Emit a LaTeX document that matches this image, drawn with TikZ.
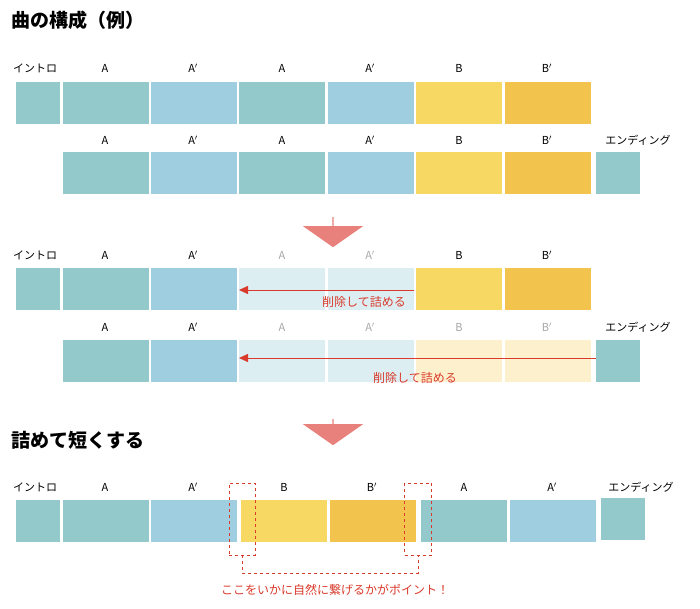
\documentclass[tikz,border=0pt]{standalone}
\usepackage{fontspec}
\setmainfont{Noto Sans CJK JP}
\usetikzlibrary{arrows.meta, positioning, calc, shapes.arrows}
\definecolor{tealblk}{HTML}{93C9CA}
\definecolor{blueblk}{HTML}{9FCEE0}
\definecolor{yelblk}{HTML}{F7D862}
\definecolor{orablk}{HTML}{F2C44E}
\definecolor{fadeblue}{HTML}{DDEEF2}
\definecolor{fadeyel}{HTML}{FDF0CC}
\definecolor{cutred}{HTML}{D93A2B}
\definecolor{bigarrow}{HTML}{E8817C}
\tikzset{
    blk/.style={rectangle, minimum height=42pt, inner sep=0pt, anchor=north west},
    wide/.style={blk, minimum width=86pt},
    narrow/.style={blk, minimum width=44pt},
    lbl/.style={font=\fontsize{11}{13}\selectfont, text=black},
    fadelbl/.style={lbl, text=gray!70},
    title/.style={font=\fontsize{19}{22}\selectfont\bfseries, anchor=west},
    cut/.style={-{Triangle[length=9pt,width=8pt]}, thick, color=cutred},
    note/.style={font=\fontsize{12}{14}\selectfont, text=cutred},
    down/.style={single arrow, shape border rotate=270, fill=bigarrow, minimum width=60pt,
        single arrow head extend=10pt, single arrow tip angle=110, minimum height=30pt, inner sep=0pt},
    joinmark/.style={draw=cutred, dashed, thick},
}
\begin{document}
\begin{tikzpicture}[x=1pt, y=-1pt]
    \useasboundingbox (0,0) rectangle (700,609);
    \node[title] (t1) at (8,20) {曲の構成（例）};

    % row 1
    \node[narrow, fill=tealblk] (r1i) at (16,82) {};
    \node[wide, fill=tealblk] (r1a) at (63,82) {};
    \node[wide, fill=blueblk] (r1b) at (151,82) {};
    \node[wide, fill=tealblk] (r1c) at (239,82) {};
    \node[wide, fill=blueblk] (r1d) at (328,82) {};
    \node[wide, fill=yelblk] (r1e) at (416,82) {};
    \node[wide, fill=orablk] (r1f) at (505,82) {};
    \node[lbl] at (35,68) {イントロ};
    \node[lbl] at (105,68) {A};
    \node[lbl] at (193,68) {A$'$};
    \node[lbl] at (282,68) {A};
    \node[lbl] at (370,68) {A$'$};
    \node[lbl] at (459,68) {B};
    \node[lbl] at (547,68) {B$'$};

    % row 2
    \node[wide, fill=tealblk] (r2a) at (63,152) {};
    \node[wide, fill=blueblk] (r2b) at (151,152) {};
    \node[wide, fill=tealblk] (r2c) at (239,152) {};
    \node[wide, fill=blueblk] (r2d) at (328,152) {};
    \node[wide, fill=yelblk] (r2e) at (416,152) {};
    \node[wide, fill=orablk] (r2f) at (505,152) {};
    \node[narrow, fill=tealblk] (r2g) at (596,152) {};
    \node[lbl] at (105,140) {A};
    \node[lbl] at (193,140) {A$'$};
    \node[lbl] at (282,140) {A};
    \node[lbl] at (370,140) {A$'$};
    \node[lbl] at (459,140) {B};
    \node[lbl] at (547,140) {B$'$};
    \node[lbl] at (638,140) {エンディング};

    \node[down] (d1) at (333,232) {};

    % row 3
    \node[narrow, fill=tealblk] (r3i) at (16,268) {};
    \node[wide, fill=tealblk] (r3a) at (63,268) {};
    \node[wide, fill=blueblk] (r3b) at (151,268) {};
    \node[wide, fill=fadeblue] (r3c) at (239,268) {};
    \node[wide, fill=fadeblue] (r3d) at (328,268) {};
    \node[wide, fill=yelblk] (r3e) at (416,268) {};
    \node[wide, fill=orablk] (r3f) at (505,268) {};
    \node[lbl] at (35,255) {イントロ};
    \node[lbl] at (105,255) {A};
    \node[lbl] at (193,255) {A$'$};
    \node[fadelbl] at (282,255) {A};
    \node[fadelbl] at (370,255) {A$'$};
    \node[lbl] at (459,255) {B};
    \node[lbl] at (547,255) {B$'$};
    \draw[cut] (r3d.east |- 0,290) -- (r3c.west |- 0,290);
    \node[note] (n1) at (364,302) {削除して詰める};

    % row 4
    \node[wide, fill=tealblk] (r4a) at (63,340) {};
    \node[wide, fill=blueblk] (r4b) at (151,340) {};
    \node[wide, fill=fadeblue] (r4c) at (239,340) {};
    \node[wide, fill=fadeblue] (r4d) at (328,340) {};
    \node[wide, fill=fadeyel] (r4e) at (416,340) {};
    \node[wide, fill=fadeyel] (r4f) at (505,340) {};
    \node[narrow, fill=tealblk] (r4g) at (596,340) {};
    \node[lbl] at (105,327) {A};
    \node[lbl] at (193,327) {A$'$};
    \node[fadelbl] at (282,327) {A};
    \node[fadelbl] at (370,327) {A$'$};
    \node[fadelbl] at (459,327) {B};
    \node[fadelbl] at (547,327) {B$'$};
    \node[lbl] at (638,327) {エンディング};
    \draw[cut] (r4g.west |- 0,358) -- (r4c.west |- 0,358);
    \node[note] (n2) at (415,378) {削除して詰める};

    \node[down, minimum height=26pt] (d2) at (333,432) {};
    \node[title] (t2) at (8,440) {詰めて短くする};

    % row 5
    \node[narrow, fill=tealblk] (r5i) at (16,500) {};
    \node[wide, fill=tealblk] (r5a) at (63,500) {};
    \node[wide, fill=blueblk] (r5b) at (151,500) {};
    \node[wide, fill=yelblk] (r5c) at (241,500) {};
    \node[wide, fill=orablk] (r5d) at (330,500) {};
    \node[wide, fill=tealblk] (r5e) at (421,500) {};
    \node[wide, fill=blueblk] (r5f) at (510,500) {};
    \node[narrow, fill=tealblk] (r5g) at (601,498) {};
    \node[lbl] at (35,487) {イントロ};
    \node[lbl] at (105,487) {A};
    \node[lbl] at (193,487) {A$'$};
    \node[lbl] at (284,487) {B};
    \node[lbl] at (372,487) {B$'$};
    \node[lbl] at (464,487) {A};
    \node[lbl] at (552,487) {A$'$};
    \node[lbl] at (641,487) {エンディング};

    \node[joinmark, minimum width=26pt, minimum height=72pt, inner sep=0pt] (m1) at (242,519) {};
    \node[joinmark, minimum width=27pt, minimum height=72pt, inner sep=0pt] (m2) at (418,519) {};
    \draw[joinmark] (m1.south) -- ++(0,18) -| (m2.south);
    \node[note] (n3) at (335,590) {ここをいかに自然に繋げるかがポイント！};
\end{tikzpicture}
\end{document}
